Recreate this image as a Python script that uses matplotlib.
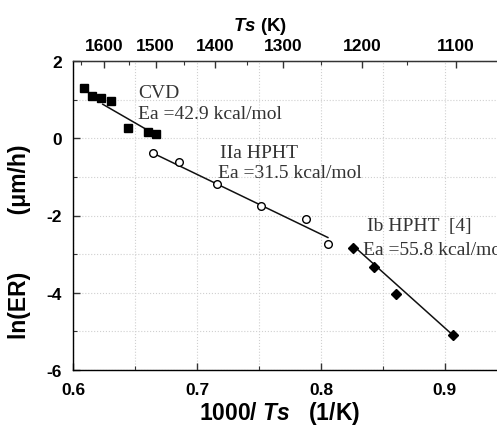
import numpy as np
import matplotlib
matplotlib.use("Agg")
import matplotlib.pyplot as plt
from matplotlib.ticker import MultipleLocator, FixedLocator

plt.rcParams['axes.unicode_minus'] = False
plt.rcParams['font.family'] = ['Liberation Sans', 'DejaVu Sans']
plt.rcParams['mathtext.fontset'] = 'custom'
plt.rcParams['mathtext.rm'] = 'Liberation Sans:bold'
plt.rcParams['mathtext.bf'] = 'Liberation Sans:bold'
plt.rcParams['mathtext.it'] = 'Liberation Sans:italic:bold'
plt.rcParams['mathtext.bfit'] = 'Liberation Sans:italic:bold'

# CVD (filled squares)
cvd_x = [0.6089, 0.6151, 0.6223, 0.6304, 0.6441, 0.6607, 0.6669]
cvd_y = [1.29, 1.10, 1.03, 0.96, 0.26, 0.16, 0.10]
cvd_fit_x = [0.624, 0.661]
cvd_fit_y = [0.88, 0.195]

# IIa HPHT (open circles)
iia_x = [0.6648, 0.6855, 0.7165, 0.7514, 0.7877, 0.8056]
iia_y = [-0.39, -0.62, -1.19, -1.76, -2.10, -2.74]
iia_fit_x = [0.6648, 0.8056]
iia_fit_y = [-0.39, -2.57]

# Ib HPHT [4] (filled diamonds)
ib_x = [0.8260, 0.8427, 0.8607, 0.9065]
ib_y = [-2.83, -3.34, -4.04, -5.10]
ib_fit_x = [0.8260, 0.9065]
ib_fit_y = [-2.78, -5.10]

# top axis temperatures
top_major_T = [1600, 1500, 1400, 1300, 1200, 1100]
top_minor_T = [1650, 1550, 1450, 1350, 1250, 1150]

fig = plt.figure(figsize=(4.97, 4.27), dpi=100)
ax = fig.add_axes([73/497, 56/427, 1 - 73/497, 309/427])

ax.set_xlim(0.6, 0.942)
ax.set_ylim(-6, 2)

ax.plot(cvd_fit_x, cvd_fit_y, color='#111111', lw=1.1, zorder=3)
ax.plot(iia_fit_x, iia_fit_y, color='#111111', lw=1.1, zorder=3)
ax.plot(ib_fit_x, ib_fit_y, color='#111111', lw=1.1, zorder=3)

ax.plot(cvd_x, cvd_y, ls='none', marker='s', ms=5.5, color='black', zorder=4)
ax.plot(iia_x, iia_y, ls='none', marker='o', ms=5.5, mfc='white', mec='black', mew=1.0, zorder=4)
ax.plot(ib_x, ib_y, ls='none', marker='D', ms=5.5, color='black', zorder=4)

ax.xaxis.set_minor_locator(MultipleLocator(0.05))
ax.yaxis.set_minor_locator(MultipleLocator(1))
ax.set_xticks([0.6, 0.7, 0.8, 0.9])
ax.set_xticklabels(['0.6', '0.7', '0.8', '0.9'])
ax.set_yticks([2, 0, -2, -4, -6])
ax.set_yticklabels(['2', '0', '-2', '-4', '-6'])

ax.grid(True, which='both', ls=':', color='#d0d0d0', lw=0.8, zorder=0)
ax.set_axisbelow(True)

ax.tick_params(which='both', direction='in', top=False, right=False, color='#333333')
ax.tick_params(which='major', length=5, width=1.0, pad=8, labelsize=12.5)
ax.tick_params(axis='x', which='major', pad=9)
ax.tick_params(which='minor', length=3, width=0.8)
for lab in ax.get_xticklabels() + ax.get_yticklabels():
    lab.set_fontweight('bold')

for s in ['left', 'bottom', 'top']:
    ax.spines[s].set_color('#333333')
    ax.spines[s].set_linewidth(1.0)
ax.spines['right'].set_visible(False)

ax.set_xlabel('1000/ $\\mathbfit{Ts}$   (1/K)', fontsize=16.5, fontweight='bold')
ax.xaxis.set_label_coords((280 - 73) / 424, -(400 - 371) / 309)
ax.set_ylabel('ln(ER)         (\u03bcm/h)', fontsize=16.5, fontweight='bold')
ax.yaxis.set_label_coords(-(73 - 31) / 424, (371 - 242) / 309)

# top axis
ax2 = ax.twiny()
ax2.set_xlim(ax.get_xlim())
ax2.xaxis.set_major_locator(FixedLocator([1000.0 / t for t in top_major_T]))
ax2.xaxis.set_minor_locator(FixedLocator([1000.0 / t for t in top_minor_T]))
ax2.set_xticklabels([str(t) for t in top_major_T])
ax2.tick_params(which='both', direction='in', color='#333333')
ax2.tick_params(which='major', length=5, width=1.0, pad=6, labelsize=12.5)
ax2.tick_params(which='minor', length=3, width=0.8)
for lab in ax2.get_xticklabels():
    lab.set_fontweight('bold')
ax2.spines['right'].set_visible(False)
ax2.spines['top'].set_color('#333333')
ax2.set_xlabel('$\\mathbfit{Ts}$ (K)', fontsize=13.5, fontweight='bold')
ax2.xaxis.set_label_coords((260 - 73) / 424, (371 - 31) / 309)

tc = '#333333'
serif = ['Liberation Serif', 'DejaVu Serif']
fs = 14
ax.text(0.6527, 1.19, 'CVD', family=serif, fontsize=fs, color=tc, va='center', ha='left')
ax.text(0.6527, 0.65, 'Ea =42.9 kcal/mol', family=serif, fontsize=fs, color=tc, va='center', ha='left')
ax.text(0.7185, -0.36, 'IIa HPHT', family=serif, fontsize=fs, color=tc, va='center', ha='left')
ax.text(0.7172, -0.88, 'Ea =31.5 kcal/mol', family=serif, fontsize=fs, color=tc, va='center', ha='left')
ax.text(0.8369, -2.27, 'Ib HPHT  [4]', family=serif, fontsize=fs, color=tc, va='center', ha='left')
ax.text(0.8340, -2.87, 'Ea =55.8 kcal/mol', family=serif, fontsize=fs, color=tc, va='center', ha='left')

fig.savefig('out.png', dpi=100)
